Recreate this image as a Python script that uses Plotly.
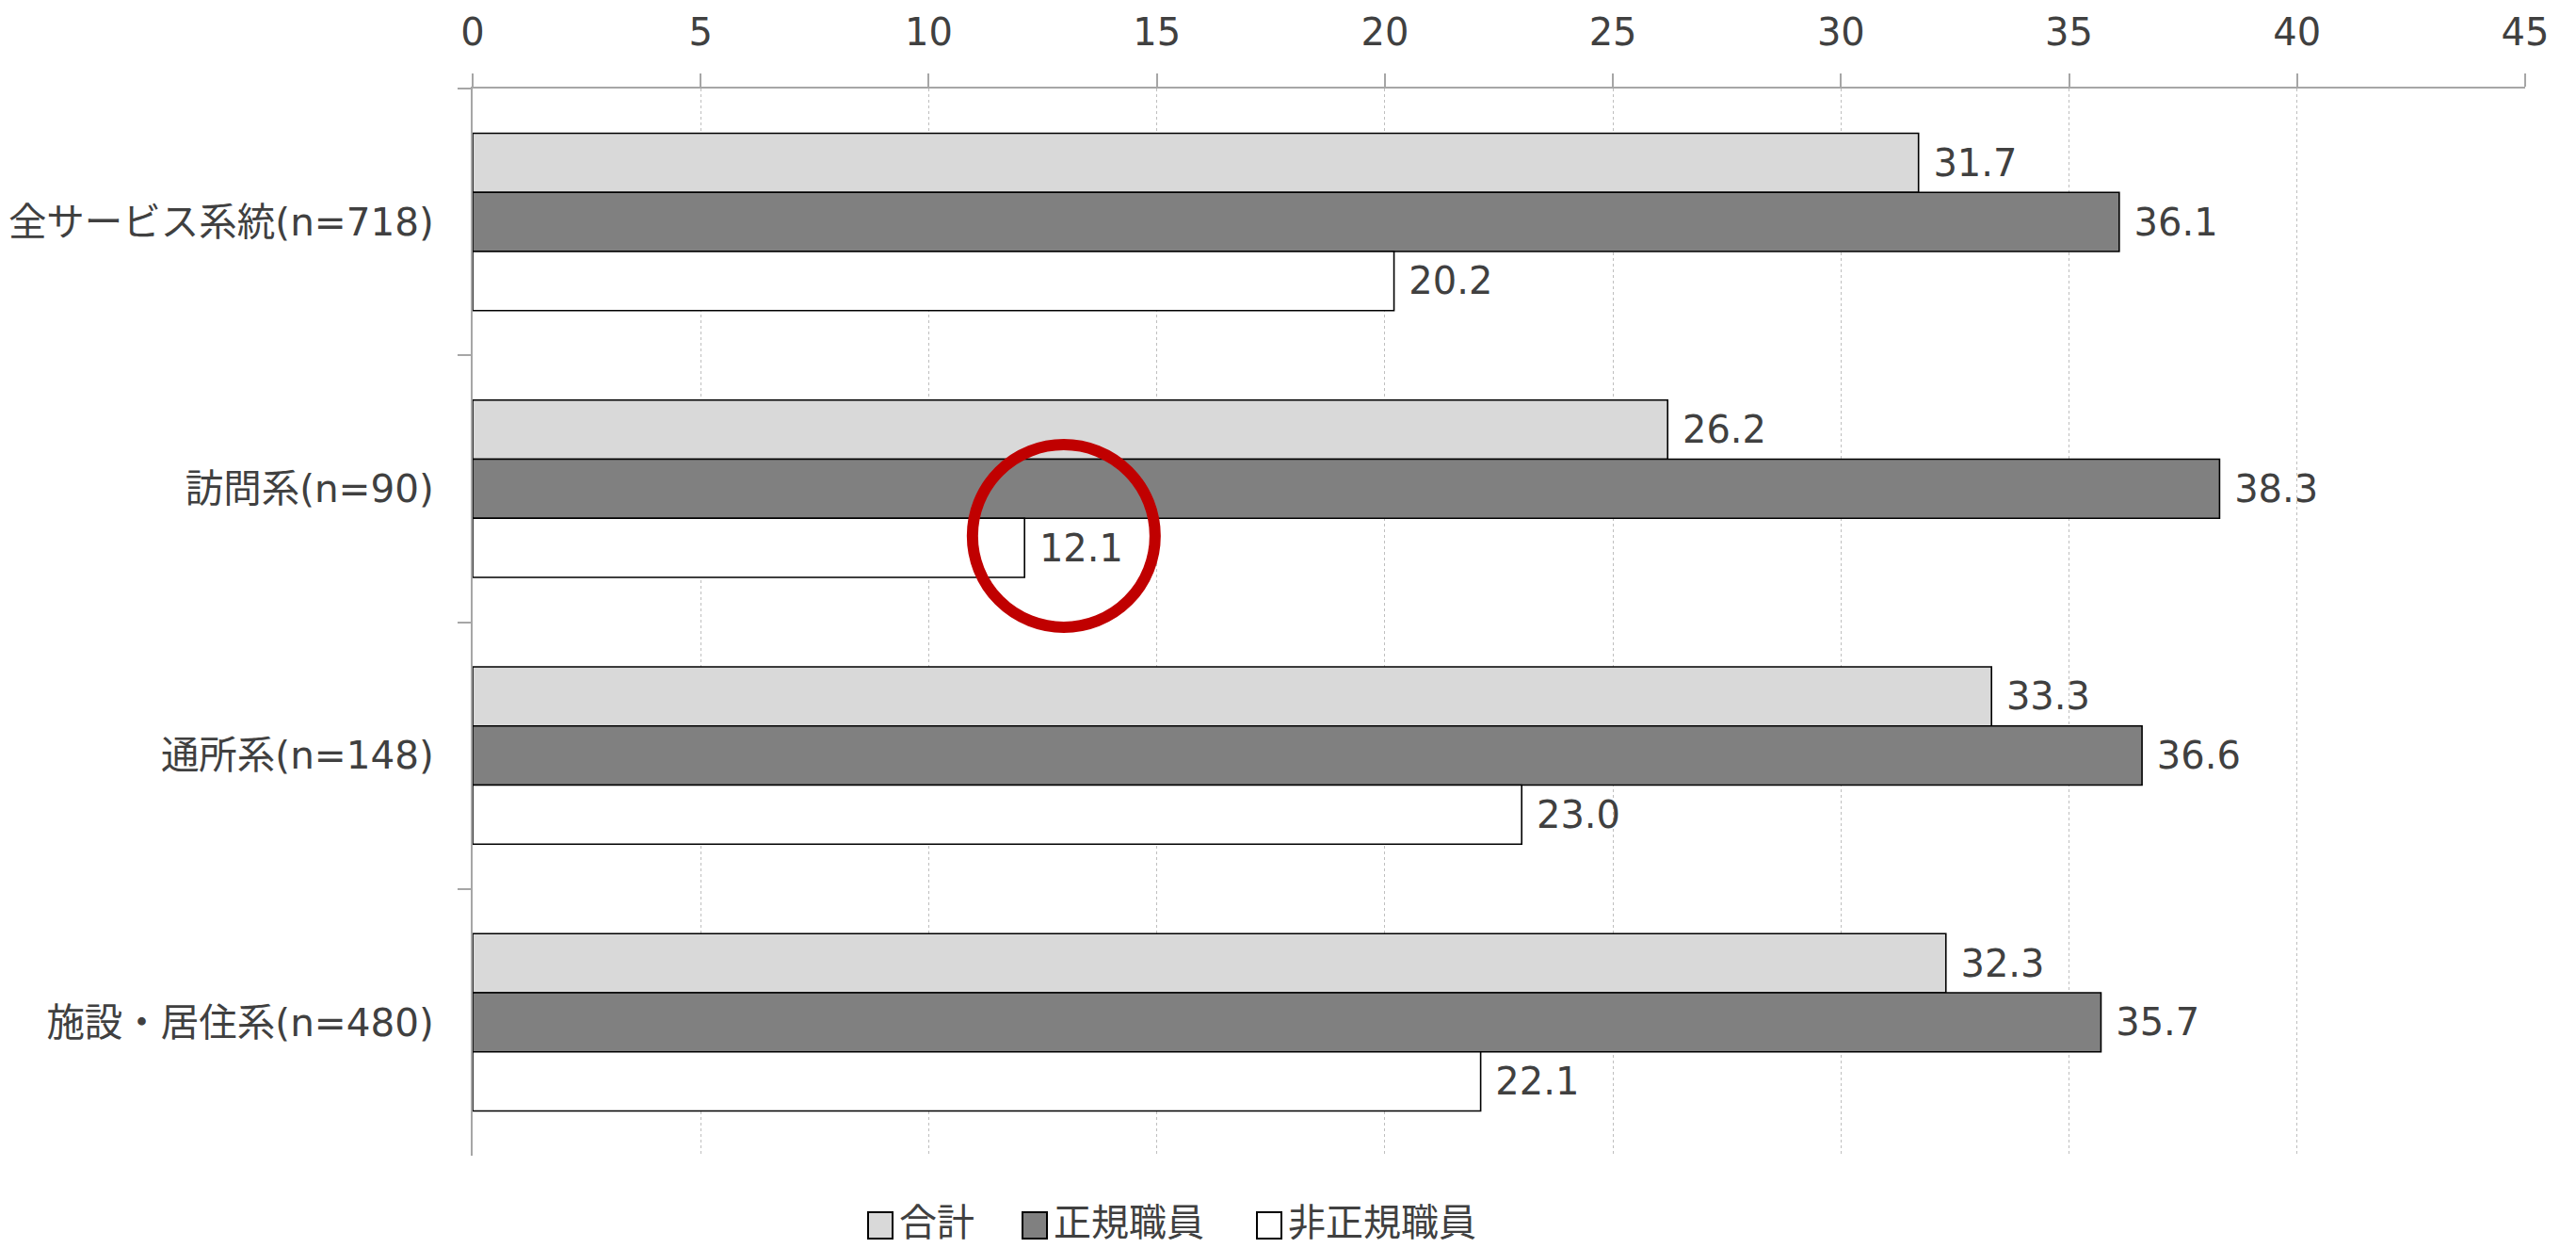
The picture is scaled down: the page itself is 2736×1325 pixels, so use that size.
import plotly.graph_objects as go

# Survey groups (top to bottom) and values per employment type
categories = ["全サービス系統(n=718)", "訪問系(n=90)", "通所系(n=148)", "施設・居住系(n=480)"]
series_names = ["合計", "正規職員", "非正規職員"]
total_vals = [31.7, 26.2, 33.3, 32.3]
regular_vals = [36.1, 38.3, 36.6, 35.7]
nonregular_vals = [20.2, 12.1, 23.0, 22.1]
x_ticks = [0, 5, 10, 15, 20, 25, 30, 35, 40, 45]

series_values = [total_vals, regular_vals, nonregular_vals]
fill_colors = ["#D9D9D9", "#808080", "#FFFFFF"]

FONT = "DejaVu Sans, Noto Sans CJK JP, sans-serif"
CJK_FONT = "Noto Sans CJK JP, sans-serif"
TEXT_COLOR = "#404040"

W, H = 2736, 1325
M_L, M_R, M_T, M_B = 502, 54, 94, 98
PLOT_W = W - M_L - M_R
PLOT_H = H - M_T - M_B


def px_x(px):
    """Convert a page x pixel to paper coordinates."""
    return (px - M_L) / PLOT_W


def px_y(py):
    """Convert a page y pixel (from top) to paper coordinates."""
    return (H - M_B - py) / PLOT_H


fig = go.Figure()
for name, vals, color in zip(series_names, series_values, fill_colors):
    fig.add_trace(go.Bar(
        y=categories,
        x=vals,
        name=name,
        orientation="h",
        marker=dict(color=color, line=dict(color="#000000", width=1.6)),
        text=vals,
        texttemplate="\u00a0%{x:.1f}",
        textposition="outside",
        constraintext="none",
        cliponaxis=False,
        textfont=dict(family=FONT, size=40, color=TEXT_COLOR),
        showlegend=False,
    ))

fig.update_layout(
    width=W,
    height=H,
    margin=dict(l=M_L, r=M_R, t=M_T, b=M_B, autoexpand=False),
    paper_bgcolor="#FFFFFF",
    plot_bgcolor="#FFFFFF",
    barmode="group",
    bargap=0.335,
    bargroupgap=0,
    font=dict(family=FONT, size=40, color=TEXT_COLOR),
    showlegend=False,
    xaxis=dict(
        side="top",
        range=[0, 45],
        tickvals=x_ticks,
        ticktext=[str(t) for t in x_ticks],
        showline=True,
        linecolor="#A6A6A6",
        linewidth=2,
        ticks="outside",
        ticklen=14,
        tickwidth=2,
        tickcolor="#A6A6A6",
        showgrid=True,
        gridcolor="#BFBFBF",
        gridwidth=1.2,
        griddash="dot",
        zeroline=False,
        tickfont=dict(family=FONT, size=40, color=TEXT_COLOR),
        ticklabelstandoff=14,
    ),
    yaxis=dict(
        autorange="reversed",
        type="category",
        showline=True,
        linecolor="#A6A6A6",
        linewidth=2,
        ticks="outside",
        tickson="boundaries",
        ticklen=14,
        tickwidth=2,
        tickcolor="#A6A6A6",
        showgrid=False,
        tickfont=dict(family=FONT, size=40.5, color=TEXT_COLOR),
        ticklabelstandoff=31,
    ),
)

# Legend row below the plot: boxed swatch followed by the series name
legend_swatch_left = [922, 1086, 1335]
legend_swatch_center_y = 1301
legend_text_center_y = 1295
swatch_w, swatch_h = 26, 28
for name, color, left in zip(series_names, fill_colors, legend_swatch_left):
    fig.add_shape(
        type="rect",
        xref="paper", yref="paper",
        x0=px_x(left), x1=px_x(left + swatch_w),
        y0=px_y(legend_swatch_center_y + swatch_h / 2),
        y1=px_y(legend_swatch_center_y - swatch_h / 2),
        line=dict(color="#000000", width=2),
        fillcolor=color,
        layer="above",
    )
    fig.add_annotation(
        xref="paper", yref="paper",
        x=px_x(left + swatch_w + 6), y=px_y(legend_text_center_y),
        xanchor="left", yanchor="middle",
        text=name,
        showarrow=False,
        borderpad=0,
        font=dict(family=CJK_FONT, size=40, color=TEXT_COLOR),
    )

# Red ring highlighting the 訪問系 non-regular value
fig.add_shape(
    type="circle",
    xref="x",
    yref="paper",
    xsizemode="pixel",
    ysizemode="pixel",
    xanchor=12.96,
    yanchor=px_y(569),
    x0=-97, x1=97,
    y0=-97, y1=97,
    line=dict(color="#C00000", width=12),
    fillcolor="rgba(0,0,0,0)",
    layer="above",
)

fig.write_html("out.html")
